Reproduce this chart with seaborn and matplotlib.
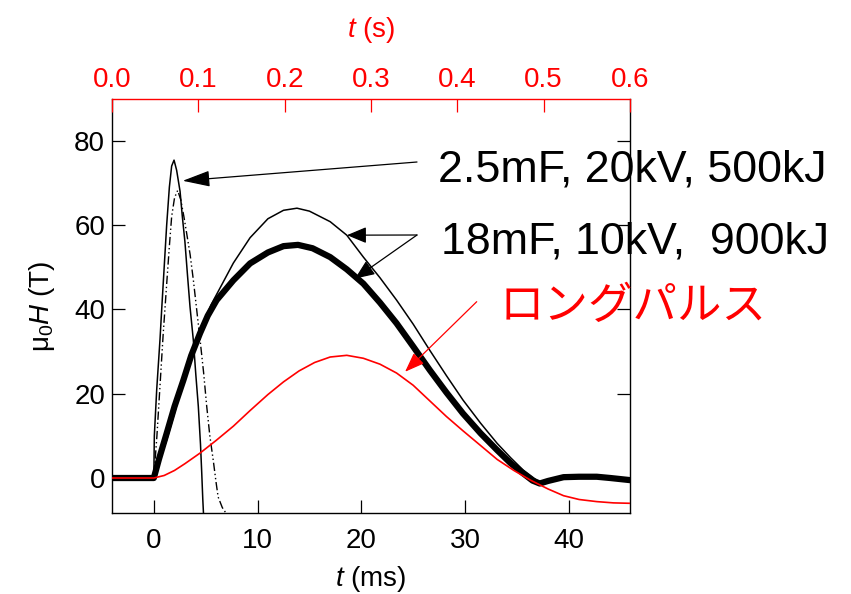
import matplotlib
matplotlib.use("Agg")
import matplotlib.pyplot as plt
import seaborn as sns
import pandas as pd

# ---------------- data ----------------
# 2.5 mF, 20 kV, 500 kJ : measured (thin solid)
t_short = [0, 0.05, 0.28, 0.6, 0.76, 1.0, 1.24, 1.5, 1.72, 1.95, 2.2, 2.53, 2.75,
           3.0, 3.25, 3.49, 3.81, 4.05, 4.29, 4.5, 4.62, 4.72, 4.8]
h_short = [0, 10, 21, 33, 40, 50, 60, 69, 74, 75.4, 73, 68, 62,
           56, 48, 40.6, 32.7, 24.5, 17, 8, 1.2, -5, -9]
# 2.5 mF : dash-dot curve
t_short2 = [0, 0.3, 0.6, 0.9, 1.24, 1.5, 1.72, 2.0, 2.3, 2.6, 2.9, 3.17, 3.5,
            3.81, 4.13, 4.45, 4.8, 5.1, 5.4, 5.74, 6.0, 6.2, 6.6, 7.0]
h_short2 = [0, 10, 22, 34, 46, 55, 62, 66.5, 68.2, 66, 62, 58, 53,
            47, 40, 33, 25, 17, 10, 4, -1, -4.5, -7, -8.5]
# 18 mF, 10 kV, 900 kJ : thin curve
t_long1 = [0, 0.5, 1.24, 2.53, 4.13, 5.5, 7.67, 9.28, 11.0, 12.5, 13.8, 15.0,
           17.0, 18.6, 20.2, 21.8, 23.4, 25.0, 26.6, 28.2, 29.8, 31.5, 33.1,
           34.4, 35.6, 36.9, 37.3]
h_long1 = [0, 4, 9, 20, 32.5, 41, 51, 57, 61.5, 63.5, 64, 63.3,
           60.8, 57.6, 52.4, 47.5, 42.2, 36.5, 30.3, 24.3, 18.5, 13, 8.2,
           4.8, 1.9, -0.5, -1.2]
# 18 mF : thick curve
t_long2 = [-4.03, 0, 0.5, 1.24, 2.0, 2.85, 3.6, 4.45, 5.2, 6.06, 7.67, 9.28,
           11.0, 12.5, 13.9, 15.3, 17.0, 18.6, 20.2, 21.8, 23.4, 25.0, 26.6,
           28.2, 29.8, 31.5, 33.1, 34.4, 35.6, 36.5, 37.2, 38.0, 39.5, 41.0,
           42.7, 44.0, 45.9]
h_long2 = [0, 0, 4.5, 10.6, 17, 23.2, 29, 34.3, 38.5, 42.2, 46.9, 50.9,
           53.5, 55, 55.3, 54.5, 52.4, 49.5, 46.1, 41.6, 36.7, 31.2, 25.6,
           20.3, 15.3, 10.6, 6.6, 3.5, 1.1, -0.6, -1.3, -0.7, 0.2, 0.3,
           0.3, 0, -0.5]
# long pulse (red)
t_lp = [-4.03, 0, 1.0, 2.0, 3.0, 4.45, 6.0, 7.67, 9.28, 11.0, 12.5, 14.0,
        15.5, 17.0, 18.6, 20.2, 21.8, 23.4, 25.0, 26.6, 28.2, 29.8, 31.5,
        33.1, 34.7, 36.3, 38.0, 39.5, 41.0, 42.7, 44.3, 45.9]
h_lp = [0, 0, 0.6, 1.8, 3.4, 5.9, 8.9, 12.3, 16.0, 19.8, 22.8, 25.4,
        27.4, 28.7, 29.1, 28.4, 27.0, 24.9, 22.0, 18.3, 14.6, 11.2, 7.7,
        4.4, 1.8, -0.5, -2.6, -4.2, -5.1, -5.6, -5.9, -6.0]

ms_ticks = [0, 10, 20, 30, 40]
h_ticks = [0, 20, 40, 60, 80]
s_ticks = [0.0, 0.1, 0.2, 0.3, 0.4, 0.5, 0.6]

label_short = "2.5mF, 20kV, 500kJ"
label_long = "18mF, 10kV,  900kJ"
label_lp = "ロングパルス"

# ---------------- style ----------------
sns.set_style("ticks")
plt.rcParams["font.family"] = ["Liberation Sans", "DejaVu Sans"]
plt.rcParams["mathtext.fontset"] = "custom"
plt.rcParams["mathtext.rm"] = "Liberation Sans"
plt.rcParams["mathtext.it"] = "Liberation Sans:italic"
plt.rcParams["axes.linewidth"] = 1.0
plt.rcParams["text.color"] = "black"
plt.rcParams["axes.labelcolor"] = "black"
plt.rcParams["xtick.color"] = "black"
plt.rcParams["ytick.color"] = "black"
plt.rcParams["axes.edgecolor"] = "black"

W, H = 851, 594
fig = plt.figure(figsize=(W / 100, H / 100), dpi=100)
ax = fig.add_axes([112 / W, 1 - 513 / H, (630 - 112) / W, (513 - 99) / H])

df_s = pd.DataFrame({"t": t_short, "h": h_short})
df_s2 = pd.DataFrame({"t": t_short2, "h": h_short2})
df_l1 = pd.DataFrame({"t": t_long1, "h": h_long1})
df_l2 = pd.DataFrame({"t": t_long2, "h": h_long2})
df_lp = pd.DataFrame({"t": t_lp, "h": h_lp})

sns.lineplot(data=df_l2, x="t", y="h", ax=ax, color="black", lw=4.5,
             estimator=None, sort=False, zorder=2)
sns.lineplot(data=df_l1, x="t", y="h", ax=ax, color="black", lw=1.1,
             estimator=None, sort=False, zorder=3)
sns.lineplot(data=df_s, x="t", y="h", ax=ax, color="black", lw=1.1,
             estimator=None, sort=False, zorder=3)
sns.lineplot(data=df_s2, x="t", y="h", ax=ax, color="black", lw=1.0,
             linestyle=(0, (6, 2, 1, 2, 1, 2)),
             estimator=None, sort=False, zorder=3)
sns.lineplot(data=df_lp, x="t", y="h", ax=ax, color="red", lw=1.2,
             estimator=None, sort=False, zorder=4)

ax.set_xlim(-4.03, 45.9)
ax.set_ylim(-8.3, 89.9)
ax.set_xticks(ms_ticks)
ax.set_yticks(h_ticks)
ax.set_xlabel("$t$ (ms)", fontsize=20, labelpad=7)
ax.set_ylabel("μ$_0$$H$ (T)", fontsize=20, labelpad=12)
ax.tick_params(axis="x", direction="in", length=9.5, width=0.9,
               labelsize=20, pad=11, top=False)
ax.tick_params(axis="y", direction="in", length=9.5, width=0.9,
               labelsize=20, pad=5, left=True, right=True)
ax.spines["top"].set_visible(False)

ax2 = ax.twiny()
ax2.set_xlim(0, 0.6)
ax2.set_xticks(s_ticks)
ax2.set_xticklabels([f"{v:.1f}" for v in s_ticks])
ax2.tick_params(axis="x", direction="in", length=9.5, width=0.9,
                labelsize=20, pad=4, colors="red")
for side in ["left", "right", "bottom"]:
    ax2.spines[side].set_visible(False)
ax2.spines["top"].set_color("red")
ax2.set_xlabel("$t$ (s)", fontsize=20, color="red", labelpad=22)

# ---------------- annotations ----------------
def arrow(tip, tail, color, hl, hw):
    ax.annotate("", xy=tip, xycoords="data",
                xytext=(tail[0], H - tail[1]), textcoords="figure pixels",
                arrowprops=dict(arrowstyle=f"-|>,head_length={hl},head_width={hw}",
                                mutation_scale=1, lw=0.9, color=color,
                                shrinkA=0, shrinkB=0))

arrow((2.79, 70.5), (417, 162), "black", 17, 5)
arrow((18.62, 57.6), (417, 235), "black", 12, 5)
arrow((19.39, 47.3), (417, 235), "black", 12, 5)
arrow((24.22, 25.2), (476.7, 301.7), "red", 12, 4.5)

fig.text(438 / W, 1 - 181.7 / H, label_short, fontsize=32.2, ha="left",
         va="baseline", color="black", family=["Liberation Sans"])
fig.text(441 / W, 1 - 254 / H, label_long, fontsize=32.2, ha="left",
         va="baseline", color="black", family=["Liberation Sans"])
fig.text(500 / W, 1 - 306 / H, label_lp, fontsize=32, ha="left",
         va="center", color="red", family=["Noto Sans CJK JP", "DejaVu Sans"])

fig.savefig("out.png", dpi=100)
